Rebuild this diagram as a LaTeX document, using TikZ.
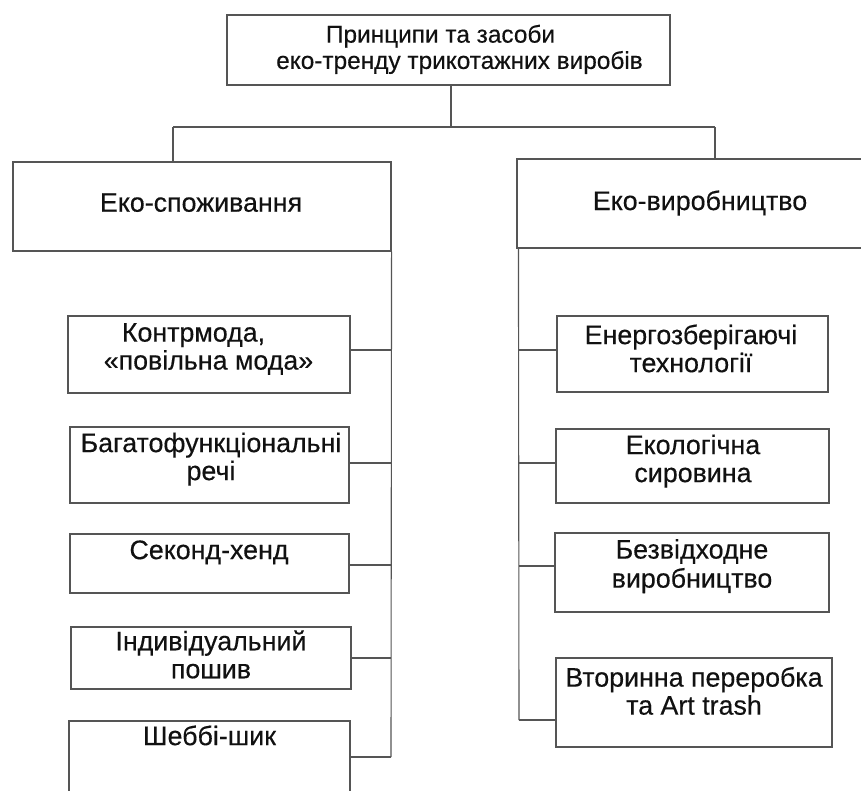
\documentclass[tikz,border=0pt]{standalone}
\usepackage{fontspec}
\setmainfont[FakeBold=0.35]{Liberation Sans}
\definecolor{linec}{HTML}{555555}
\definecolor{txtc}{HTML}{111111}
\begin{document}
\begin{tikzpicture}[x=1pt,y=-1pt,
  box/.style={draw=linec,line width=1.1pt,inner sep=0pt,rectangle},
  txt/.style={text=txtc,align=center,inner sep=0pt,font=\fontsize{26.8}{28}\selectfont},
  conn/.style={draw=linec,line width=1.1pt}]
\clip (0,0) rectangle (861,790);
\fill[white] (0,0) rectangle (861,790);
% boxes
\node[box,minimum width=443pt,minimum height=70pt] (top) at (448.5,50) {};
\node[box,minimum width=378pt,minimum height=89pt] (L) at (202,206.5) {};
\node[box,minimum width=366pt,minimum height=89pt] (R) at (700,203.5) {};
\node[box,minimum width=282pt,minimum height=77pt] (c1) at (209,354.5) {};
\node[box,minimum width=279pt,minimum height=76pt] (c2) at (209.5,465) {};
\node[box,minimum width=279pt,minimum height=59pt] (c3) at (209.5,563.5) {};
\node[box,minimum width=280pt,minimum height=62pt] (c4) at (211,658) {};
\node[box,minimum width=281pt,minimum height=72pt] (c5) at (209.5,757) {};
\node[box,minimum width=271pt,minimum height=76pt] (d1) at (692.5,354) {};
\node[box,minimum width=273pt,minimum height=74pt] (d2) at (692.5,466) {};
\node[box,minimum width=274pt,minimum height=79pt] (d3) at (692,572.5) {};
\node[box,minimum width=276pt,minimum height=89pt] (d4) at (694,702.5) {};
% texts
\node[txt,font=\fontsize{24.4}{24.5}\selectfont] (ttop) at (459.5,50.5) {\strut Принципи та засоби\hspace*{38pt}\\еко-тренду трикотажних виробів\strut};
\node[txt] (tL) at (201,206.1) {\strut Еко-споживання\strut};
\node[txt] (tR) at (700,204.4) {\strut Еко-виробництво\strut};
\node[txt] (tc1) at (208.5,350) {\strut Контрмода,\hspace*{30pt}\\«повільна мода»\strut};
\node[txt] (tc2) at (211,460.5) {\strut Багатофункціональні\\речі\strut};
\node[txt] (tc3) at (209,553.5) {\strut Секонд-хенд\strut};
\node[txt] (tc4) at (211,658.5) {\strut Індивідуальний\\пошив\strut};
\node[txt] (tc5) at (209.5,739.5) {\strut Шеббі-шик\strut};
\node[txt] (td1) at (691,352.5) {\strut Енергозберігаючі\\технології\strut};
\node[txt] (td2) at (693,462.5) {\strut Екологічна\\сировина\strut};
\node[txt] (td3) at (692,567.5) {\strut Безвідходне\\виробництво\strut};
\node[txt] (td4) at (694,695) {\strut Вторинна переробка\\та Art trash\strut};
% connectors
\coordinate (jL) at (173,127);
\coordinate (jR) at (715,127);
\draw[conn] ([xshift=2.5pt]top.south) -- ([xshift=2.5pt]top.south |- jL);
\draw[conn] (jL) -- (jR);
\draw[conn] (jL) -- (jL |- L.north);
\draw[conn] (jR) -- (jR |- R.north);
\coordinate (sL) at (391,757);
\coordinate (sR) at (519,720);
\draw[conn] (L.south east) -- (sL);
\draw[conn] ([xshift=2pt]R.south west) -- (sR);
\draw[conn] ([yshift=4.5pt]c1.east) -- ([yshift=4.5pt]c1.east -| sL);
\draw[conn] ([yshift=2pt]c2.east) -- ([yshift=2pt]c2.east -| sL);
\draw[conn] ([yshift=-1.5pt]c3.east) -- ([yshift=-1.5pt]c3.east -| sL);
\draw[conn] (c4.east) -- (c4.east -| sL);
\draw[conn] (c5.east) -- (sL);
\draw[conn] ([yshift=4pt]d1.west) -- ([yshift=4pt]d1.west -| sR);
\draw[conn] ([yshift=3pt]d2.west) -- ([yshift=3pt]d2.west -| sR);
\draw[conn] ([yshift=6.5pt]d3.west) -- ([yshift=6.5pt]d3.west -| sR);
\draw[conn] ([yshift=-17.5pt]d4.west) -- (sR);
\end{tikzpicture}
\end{document}
